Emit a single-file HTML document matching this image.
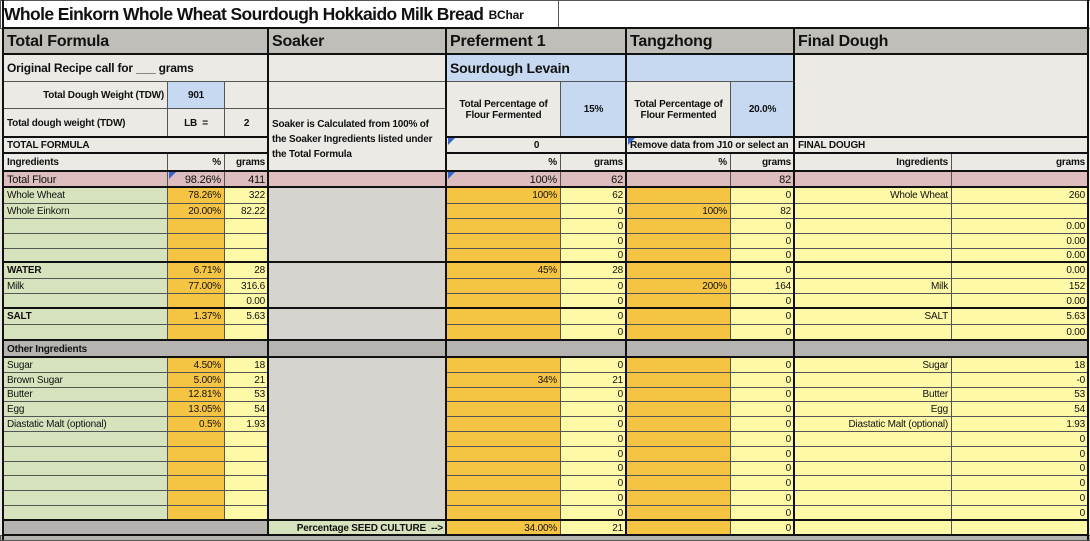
<!DOCTYPE html>
<html><head><meta charset="utf-8">
<style>
body{margin:0;width:1090px;height:540px;overflow:hidden;background:#fff;font-family:"Liberation Sans",sans-serif;}
#sheet{position:absolute;left:0;top:0;width:1090px;height:540px;background:#e9e8e3;}
.c{position:absolute;box-sizing:border-box;border:1px solid #555;font-size:10px;color:#111;white-space:nowrap;overflow:hidden;display:flex;align-items:center;padding:0 3px;letter-spacing:-0.2px;}
.r{justify-content:flex-end;}
.m{justify-content:center;text-align:center;}
.b{font-weight:bold;}
.tl{position:absolute;background:#111;}
</style></head><body>
<div id="sheet"></div>
<script>
const sheet=document.getElementById('sheet');
const GRAY='#bfbeb9',LIGHT='#ebeae5',BLUE='#c6d9f0',PINK='#ddbdbd',GREEN='#d7e3bd',ORANGE='#f6c443',YEL='#fdf9a6',SOAK='#d5d4cf',BAND='#b5b4b0';
function cell(x1,y1,x2,y2,text,bg,cls,name,fs){
  const d=document.createElement('div');
  d.className='c '+(cls||'');
  d.style.left=x1+'px';d.style.top=y1+'px';d.style.width=(x2-x1+1)+'px';d.style.height=(y2-y1+1)+'px';
  d.style.background=bg;
  if(fs)d.style.fontSize=fs+'px';
  d.innerHTML=text||'';
  
  
  sheet.appendChild(d);
  return d;
}
// title
cell(0,0,558,28,'<span style="font-size:17.5px;letter-spacing:-0.6px">Whole Einkorn Whole Wheat Sourdough Hokkaido Milk Bread</span>&nbsp;&nbsp;<span style="font-size:12px">BChar</span>','#fff','b','title');
cell(558,0,1090,28,'','#fff','','title-blank');
// headers
cell(3,28,268,54,'Total Formula',GRAY,'b','header-total-formula',16);
cell(268,28,446,54,'Soaker',GRAY,'b','header-soaker',16);
cell(446,28,626,54,'Preferment 1',GRAY,'b','header-preferment',16);
cell(626,28,794,54,'Tangzhong',GRAY,'b','header-tangzhong',16);
cell(794,28,1088,54,'Final Dough',GRAY,'b','header-final-dough',16);
cell(3,54,268,81,'Original Recipe call for ___ grams',LIGHT,'b','original-recipe',12);
cell(268,54,446,81,'',LIGHT,'','soaker-blank');
cell(446,54,626,81,'Sourdough Levain',BLUE,'b','sourdough-levain',14);
cell(626,54,794,81,'',BLUE,'','tangzhong-blank');
cell(794,54,1088,137,'',LIGHT,'','final-blank');
cell(3,81,167,108,'Total Dough Weight (TDW)',LIGHT,'b r','tdw-label');
cell(167,81,224,108,'901',BLUE,'b m','tdw-value');
cell(224,81,268,108,'',LIGHT,'','tdw-blank');
cell(268,81,446,108,'',LIGHT,'','soaker-blank2');
cell(446,81,560,137,'Total Percentage of<br>Flour Fermented',LIGHT,'b m','levain-pct-label');
cell(560,81,626,137,'15%',BLUE,'b m','levain-pct-value');
cell(626,81,730,137,'Total Percentage of<br>Flour Fermented',LIGHT,'b m','tangzhong-pct-label');
cell(730,81,794,137,'20.0%',BLUE,'b m','tangzhong-pct-value');
cell(3,108,167,137,'Total dough weight (TDW)',LIGHT,'b','tdw-lb-label');
cell(167,108,224,137,'LB &nbsp;=',LIGHT,'b m','lb-label');
cell(224,108,268,137,'2',LIGHT,'b m','lb-value');
const note=cell(268,108,446,171,'Soaker is Calculated from 100% of the Soaker Ingredients listed under the Total Formula',LIGHT,'b','soaker-note',10);
note.style.whiteSpace='normal';note.style.lineHeight='15px';note.style.alignItems='flex-start';note.style.paddingTop='8px';
cell(3,137,268,153,'TOTAL FORMULA',LIGHT,'b','total-formula-label');
cell(446,137,626,153,'0',LIGHT,'b m','preferment-zero');
cell(626,137,794,153,'Remove data from J10 or select an',LIGHT,'b','tangzhong-note');
cell(794,137,1088,153,'FINAL DOUGH',LIGHT,'b','final-dough-label');
cell(3,153,167,171,'Ingredients',LIGHT,'b','ingredients-header');
cell(167,153,224,171,'%',LIGHT,'b r','pct-header');
cell(224,153,268,171,'grams',LIGHT,'b r','grams-header');
cell(446,153,560,171,'%',LIGHT,'b r','p-pct-header');
cell(560,153,626,171,'grams',LIGHT,'b r','p-grams-header');
cell(626,153,730,171,'%',LIGHT,'b r','t-pct-header');
cell(730,153,794,171,'grams',LIGHT,'b r','t-grams-header');
cell(794,153,951,171,'Ingredients',LIGHT,'b r','f-ing-header');
cell(951,153,1088,171,'grams',LIGHT,'b r','f-grams-header');
// total flour
cell(3,171,167,187,'Total Flour',PINK,'','total-flour',11);
cell(167,171,224,187,'98.26%',PINK,'r','total-flour-pct',11);
cell(224,171,268,187,'411',PINK,'r','total-flour-grams',11);
cell(268,171,446,187,'',PINK,'','soaker-flour');
cell(446,171,560,187,'100%',PINK,'r','p-flour-pct',11);
cell(560,171,626,187,'62',PINK,'r','p-flour-grams',11);
cell(626,171,730,187,'',PINK,'','t-flour-pct');
cell(730,171,794,187,'82',PINK,'r','t-flour-grams',11);
cell(794,171,951,187,'',PINK,'','f-flour-ing');
cell(951,171,1088,187,'',PINK,'','f-flour-grams');
// ingredient rows: [name, pct, grams, p%, pg, t%, tg, fname, fg, bold]
const rowsTop=[
['Whole Wheat','78.26%','322','100%','62','','0','Whole Wheat','260'],
['Whole Einkorn','20.00%','82.22','','0','100%','82','',''],
['','','','','0','','0','','0.00'],
['','','','','0','','0','','0.00'],
['','','','','0','','0','','0.00'],
['WATER','6.71%','28','45%','28','','0','','0.00',1],
['Milk','77.00%','316.6','','0','200%','164','Milk','152'],
['','','0.00','','0','','0','','0.00'],
['SALT','1.37%','5.63','','0','','0','SALT','5.63',1],
['','','','','0','','0','','0.00']];
const rowsTopY=[187,203,218,233,248,262,278,293,308,324,340];
const rowsOther=[
['Sugar','4.50%','18','','0','','0','Sugar','18'],
['Brown Sugar','5.00%','21','34%','21','','0','','-0'],
['Butter','12.81%','53','','0','','0','Butter','53'],
['Egg','13.05%','54','','0','','0','Egg','54'],
['Diastatic Malt (optional)','0.5%','1.93','','0','','0','Diastatic Malt (optional)','1.93'],
['','','','','0','','0','','0'],['','','','','0','','0','','0'],['','','','','0','','0','','0'],
['','','','','0','','0','','0'],['','','','','0','','0','','0'],['','','','','0','','0','','0']];
function drawRow(r,y1,y2){
  const B=r[9]?'b ':'';
  cell(3,y1,167,y2,r[0],GREEN,B,'ingredient-name');
  cell(167,y1,224,y2,r[1],ORANGE,'r','ingredient-pct');
  cell(224,y1,268,y2,r[2],YEL,'r','ingredient-grams');
  cell(446,y1,560,y2,r[3],ORANGE,'r','preferment-pct');
  cell(560,y1,626,y2,r[4],YEL,'r','preferment-grams');
  cell(626,y1,730,y2,r[5],ORANGE,'r','tangzhong-pct');
  cell(730,y1,794,y2,r[6],YEL,'r','tangzhong-grams');
  cell(794,y1,951,y2,r[7],YEL,'r','final-ingredient');
  cell(951,y1,1088,y2,r[8],YEL,'r','final-grams');
}
rowsTop.forEach((r,i)=>drawRow(r,rowsTopY[i],rowsTopY[i+1]));
cell(268,187,446,340,'',SOAK,'','soaker-body');
cell(3,340,1088,357,'Other Ingredients',BAND,'b','other-ingredients-band');
const h=14.8;
rowsOther.forEach((r,i)=>drawRow(r,Math.round(357+i*h),Math.round(357+(i+1)*h)));
cell(268,357,446,520,'',SOAK,'','soaker-body-2');
cell(3,520,268,535,'',BAND,'','seed-blank');
cell(268,520,446,535,'Percentage SEED CULTURE &nbsp;--&gt;',GREEN,'b r','seed-culture-label');
cell(446,520,560,535,'34.00%',ORANGE,'r','seed-pct');
cell(560,520,626,535,'21',YEL,'r','seed-grams');
cell(626,520,730,535,'',ORANGE,'','seed-t-pct');
cell(730,520,794,535,'0',YEL,'r','seed-t-grams');
cell(794,520,951,535,'',YEL,'','seed-f-ing');
cell(951,520,1088,535,'',YEL,'','seed-f-grams');
cell(0,535,1090,540,'',BAND,'','bottom-band');
// thick lines
function line(x,y,w,hh,name){
  const d=document.createElement('div');d.className='tl';
  d.style.left=x+'px';d.style.top=y+'px';d.style.width=w+'px';d.style.height=hh+'px';
  
  
  sheet.appendChild(d);
}
[268,446,626,794].forEach(x=>line(x-1,28,2,507,'section-divider'));
line(1087,0,2,540,'right-edge');line(2,0,2,540,'left-edge');
[28,54,171,187,262,308,340,357,520,535].forEach(y=>line(2,y-1,1087,2,'row-divider'));
[137,153].forEach(y=>{line(2,y-1,266,2,'row-divider-left');line(446,y-1,643,2,'row-divider-right');});
// blue markers
[[167,171],[446,171],[446,137],[626,137]].forEach(p=>{
  const d=document.createElement('div');
  d.style.cssText='position:absolute;left:'+(p[0]+2)+'px;top:'+(p[1]+1)+'px;width:0;height:0;border-top:7px solid #3366cc;border-right:7px solid transparent;';
  
  
  sheet.appendChild(d);
});
</script>
</body></html>
